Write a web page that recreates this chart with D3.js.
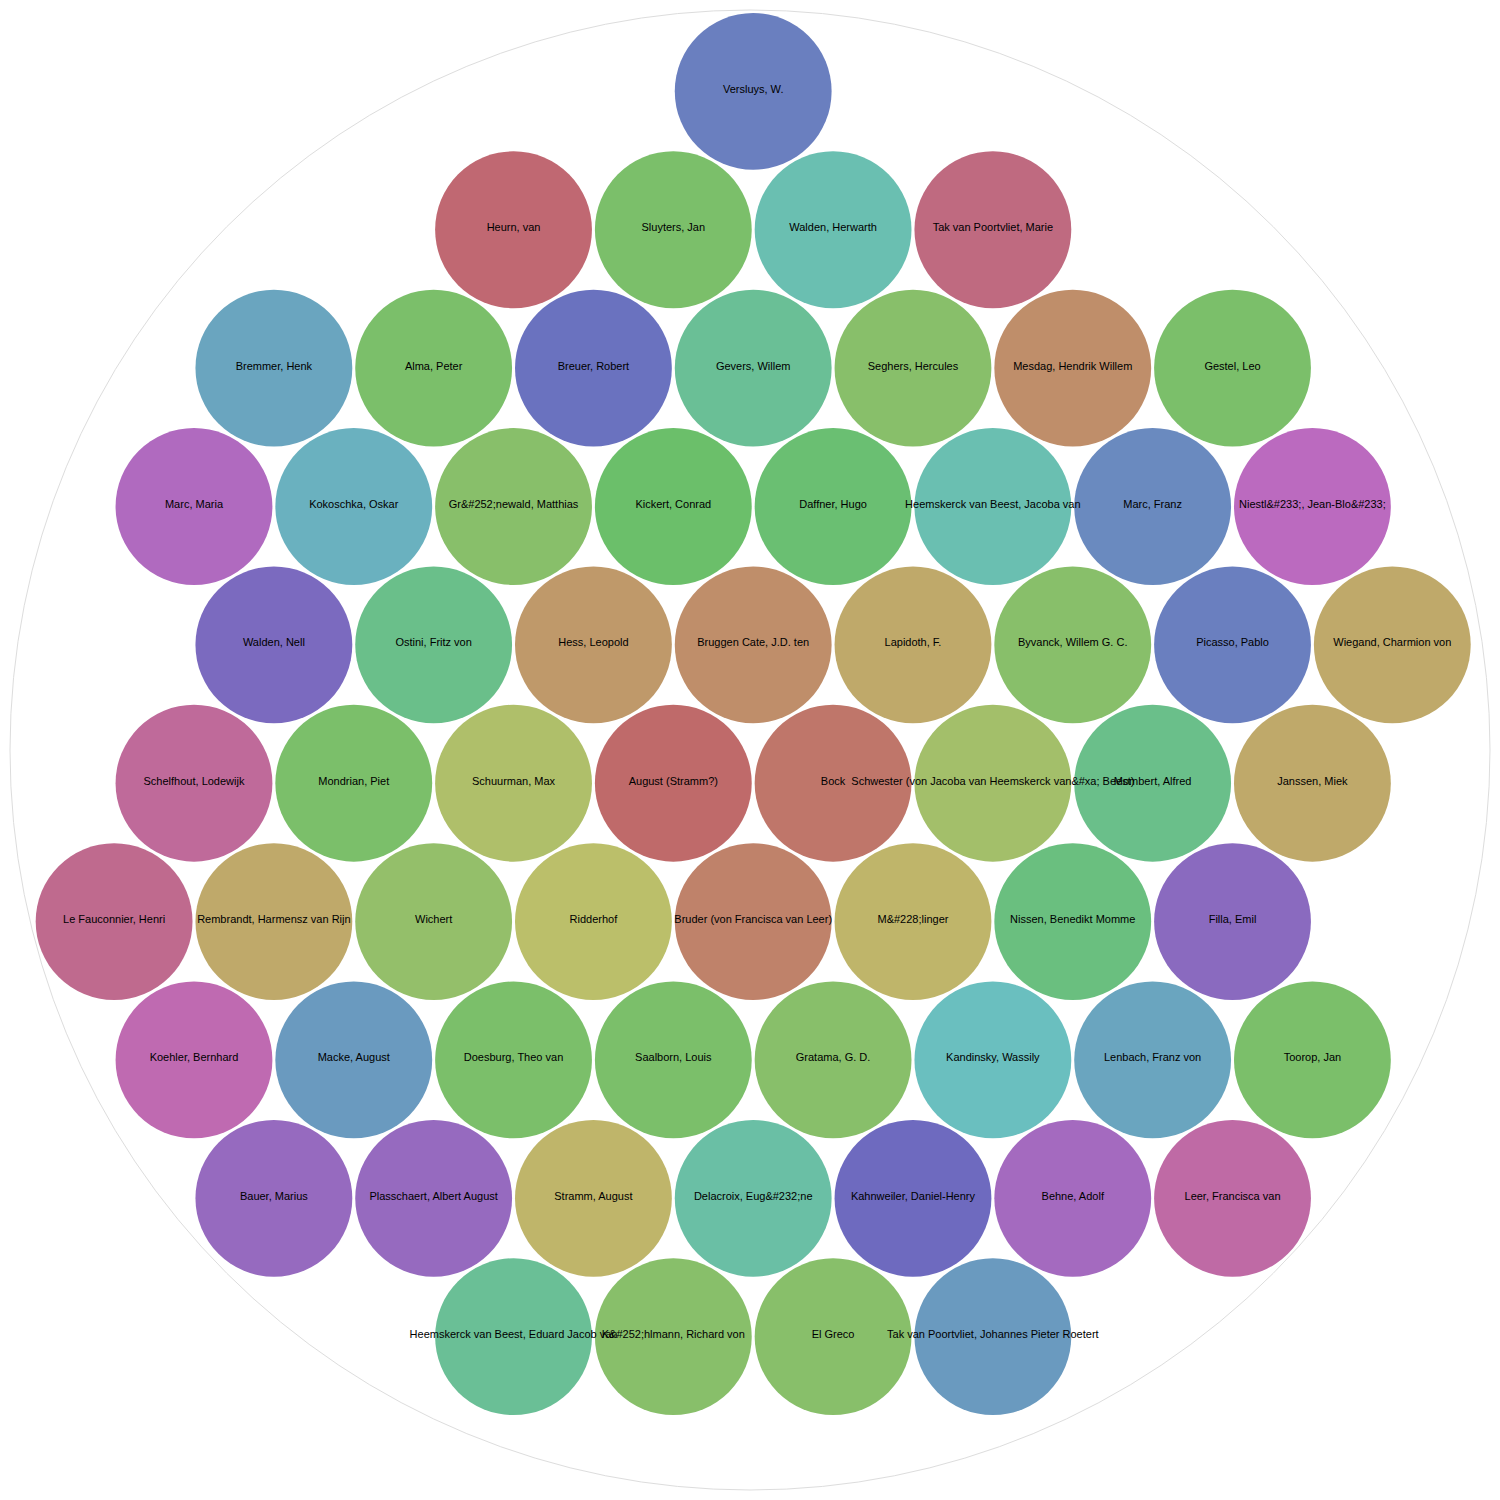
<!DOCTYPE html>
<html><head><meta charset="utf-8">
<script src="https://cdn.jsdelivr.net/npm/d3@7"></script>
<style>body{margin:0;background:#fff}</style></head><body>
<script>
// Names in the data order that d3.pack places them
const names = [
  "August (Stramm?)", "Bock", "Bruggen Cate, J.D. ten", "Bruder (von Francisca van Leer)",
  "Ridderhof", "M&#228;linger", "Lapidoth, F.", "Hess, Leopold", "Schuurman, Max",
  "Schwester (von Jacoba van Heemskerck van&#xa; Beest)", "Byvanck, Willem G. C.",
  "Ostini, Fritz von", "Saalborn, Louis", "Gratama, G. D.", "Daffner, Hugo",
  "Kickert, Conrad", "Gevers, Willem", "Wichert", "Delacroix, Eug&#232;ne",
  "Nissen, Benedikt Momme", "Heemskerck van Beest, Jacoba van", "Gr&#252;newald, Matthias",
  "Doesburg, Theo van", "Kandinsky, Wassily", "Lenbach, Franz von", "Marc, Franz",
  "Kokoschka, Oskar", "Macke, August", "Mombert, Alfred", "Picasso, Pablo",
  "Mondrian, Piet", "Rembrandt, Harmensz van Rijn", "Stramm, August",
  "Kahnweiler, Daniel-Henry", "Seghers, Hercules", "Breuer, Robert",
  "K&#252;hlmann, Richard von", "El Greco", "Walden, Herwarth", "Sluyters, Jan",
  "Walden, Nell", "Filla, Emil", "Mesdag, Hendrik Willem", "Plasschaert, Albert August",
  "Behne, Adolf", "Alma, Peter", "Marc, Maria", "Koehler, Bernhard", "Toorop, Jan",
  "Niestl&#233;, Jean-Blo&#233;", "Gestel, Leo", "Bremmer, Henk", "Bauer, Marius",
  "Leer, Francisca van", "Janssen, Miek", "Wiegand, Charmion von",
  "Schelfhout, Lodewijk", "Le Fauconnier, Henri",
  "Heemskerck van Beest, Eduard Jacob van", "Tak van Poortvliet, Marie", "Heurn, van",
  "Tak van Poortvliet, Johannes Pieter Roetert", "Versluys, W."
];
const colors = [
  "#bf6a6a", "#bf766a", "#bf8e6a", "#bf826a",
  "#bbbf6a", "#bfb56a", "#bfa96a", "#bf996a", "#afbf6a",
  "#a3bf6a", "#88bf6a",
  "#6abf8a", "#7bbf6a", "#88bf6a", "#6abf72",
  "#6bbf6a", "#6abf96", "#94bf6a", "#6abfa5",
  "#6abf7f", "#6abfb1", "#88bf6a",
  "#7bbf6a", "#6abfbf", "#6aa5bf", "#6a8abf",
  "#6ab1bf", "#6a9abf", "#6abf8a", "#6a7fbf",
  "#7bbf6a", "#bfa96a", "#bfb56a",
  "#6e6abf", "#88bf6a", "#6a72bf",
  "#88bf6a", "#88bf6a", "#6abfb1", "#7bbf6a",
  "#7b6abf", "#8a6abf", "#bf8e6a", "#966abf",
  "#a46abf", "#7bbf6a", "#b06abf", "#bf6ab1", "#7bbf6a",
  "#bb6abf", "#7bbf6a", "#6aa5bf", "#966abf",
  "#bf6aa5", "#bfa96a", "#bfa96a",
  "#bf6a9a", "#bf6a8e",
  "#6abf96", "#bf6a80", "#c06872",
  "#6a9abf", "#6a7fbf"
];
const values = names.map(() => 1);

const width = 1500, height = 1500, margin = 10, size = 1480;
const root = d3.hierarchy({children: names.map((n, i) => ({name: n, color: colors[i], value: values[i]}))})
  .sum(d => d.children ? 0 : d.value);
d3.pack().size([size, size]).padding(3)(root);

const x = d3.scaleLinear().domain([0, size]).range([0, size]);
const y = d3.scaleLinear().domain([0, size]).range([size, 0]);

const svg = d3.select("body").append("svg").attr("width", width).attr("height", height);
const g = svg.append("g").attr("transform", `translate(${margin},${margin})`);
g.append("circle").attr("cx", x(root.x)).attr("cy", y(root.y)).attr("r", root.r)
  .attr("fill", "none").attr("stroke", "#ddd").attr("stroke-width", 1);
g.append("g").selectAll("circle").data(root.leaves()).join("circle")
  .attr("cx", d => x(d.x)).attr("cy", d => y(d.y))
  .attr("r", d => d.r).attr("fill", d => d.data.color);
g.append("g").selectAll("text").data(root.leaves()).join("text")
  .attr("x", d => x(d.x)).attr("y", d => y(d.y))
  .attr("text-anchor", "middle").attr("dy", "0.13em")
  .style("font-family", "'Liberation Sans', Arial, Helvetica, sans-serif")
  .style("font-size", "11px").attr("fill", "#000")
  .text(d => d.data.name);
</script></body></html>
